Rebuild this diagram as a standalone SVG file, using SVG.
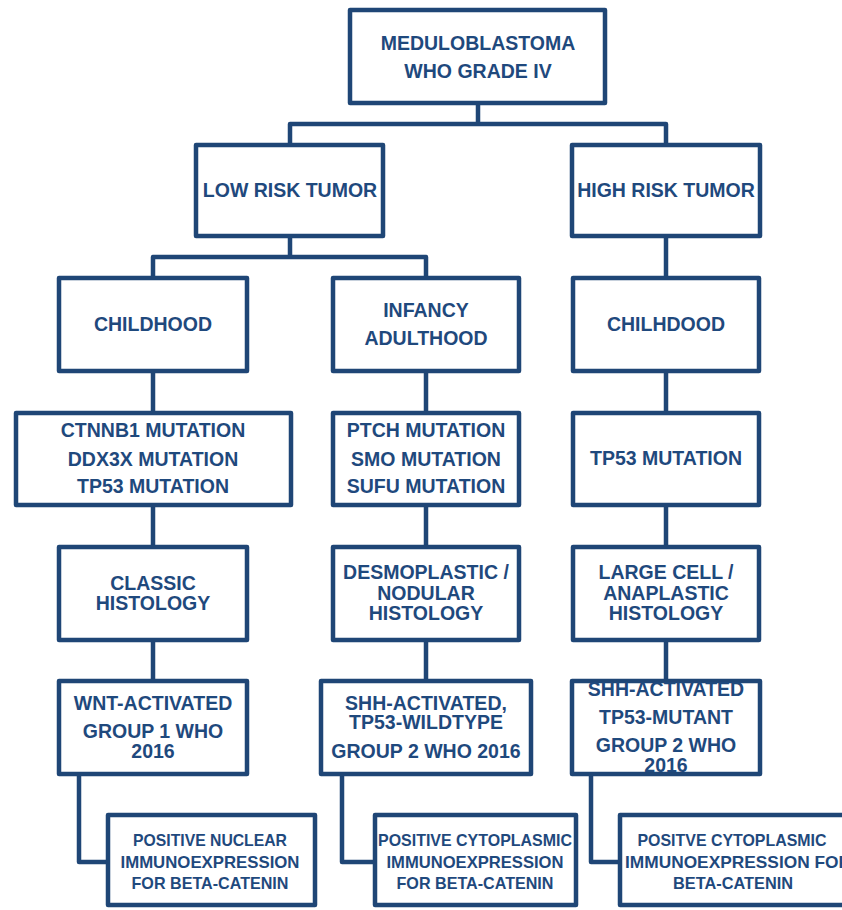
<svg xmlns="http://www.w3.org/2000/svg" width="842" height="910" viewBox="0 0 842 910">
<style>
.box{fill:#fff;stroke:#1F4676;stroke-width:4.5;stroke-linejoin:round}
.con{fill:none;stroke:#1F4676;stroke-width:4.5;stroke-linejoin:round}
.t{font-family:"Liberation Sans",Arial,sans-serif;font-weight:bold;font-size:19.5px;fill:#1F497D;text-anchor:middle}
.s{font-family:"Liberation Sans",Arial,sans-serif;font-weight:bold;font-size:16.5px;fill:#1F497D;text-anchor:middle}
</style>
<rect width="842" height="910" fill="#fff"/>
<g id="connectors" class="con">
<path d="M478 105V124M290 143V124H666V143"/>
<path d="M290 238V257M153 277V257H426V277"/>
<path d="M666 238V277"/>
<path d="M153 373V411M426 373V411M666 373V411"/>
<path d="M153 507V545M426 507V545M666 507V545"/>
<path d="M153 642V679M426 642V679M666 642V679"/>
<path d="M79 776V862H106M342 776V862H373M591 776V862H618"/>
</g>
<g id="root"><rect class="box" x="350" y="10" width="255" height="93"/>
<text class="t" x="478" y="50">MEDULOBLASTOMA</text><text class="t" x="478" y="78">WHO GRADE IV</text></g>
<g id="low-risk"><rect class="box" x="196" y="145" width="187" height="91"/>
<text class="t" x="290" y="197">LOW RISK TUMOR</text></g>
<g id="high-risk"><rect class="box" x="572" y="145" width="188" height="91"/>
<text class="t" x="666" y="197">HIGH RISK TUMOR</text></g>
<g id="childhood"><rect class="box" x="59" y="278" width="188" height="93"/>
<text class="t" x="153" y="331">CHILDHOOD</text></g>
<g id="infancy"><rect class="box" x="333" y="278" width="186" height="93"/>
<text class="t" x="426" y="317">INFANCY</text><text class="t" x="426" y="345">ADULTHOOD</text></g>
<g id="chilhdood"><rect class="box" x="573" y="278" width="186" height="93"/>
<text class="t" x="666" y="331">CHILHDOOD</text></g>
<g id="wnt-mutations"><rect class="box" x="16" y="413" width="275" height="92"/>
<text class="t" x="153" y="437">CTNNB1 MUTATION</text><text class="t" x="153" y="466">DDX3X MUTATION</text><text class="t" x="153" y="493">TP53 MUTATION</text></g>
<g id="shh-mutations"><rect class="box" x="333" y="413" width="186" height="92"/>
<text class="t" x="426" y="437">PTCH MUTATION</text><text class="t" x="426" y="466">SMO MUTATION</text><text class="t" x="426" y="493">SUFU MUTATION</text></g>
<g id="tp53-mutation"><rect class="box" x="573" y="413" width="186" height="92"/>
<text class="t" x="666" y="465">TP53 MUTATION</text></g>
<g id="classic"><rect class="box" x="59" y="547" width="188" height="93"/>
<text class="t" x="153" y="590">CLASSIC</text><text class="t" x="153" y="610">HISTOLOGY</text></g>
<g id="desmoplastic"><rect class="box" x="333" y="547" width="186" height="93"/>
<text class="t" x="426" y="579">DESMOPLASTIC /</text><text class="t" x="426" y="600">NODULAR</text><text class="t" x="426" y="620">HISTOLOGY</text></g>
<g id="large-cell"><rect class="box" x="573" y="547" width="186" height="93"/>
<text class="t" x="666" y="579">LARGE CELL /</text><text class="t" x="666" y="600">ANAPLASTIC</text><text class="t" x="666" y="620">HISTOLOGY</text></g>
<g id="wnt-group"><rect class="box" x="59" y="681" width="188" height="93"/>
<text class="t" x="153" y="710">WNT-ACTIVATED</text><text class="t" x="153" y="738">GROUP 1 WHO</text><text class="t" x="153" y="758">2016</text></g>
<g id="shh-wildtype"><rect class="box" x="321" y="681" width="210" height="93"/>
<text class="t" x="426" y="710">SHH-ACTIVATED,</text><text class="t" x="426" y="729">TP53-WILDTYPE</text><text class="t" x="426" y="758">GROUP 2 WHO 2016</text></g>
<g id="shh-mutant"><rect class="box" x="572" y="681" width="188" height="93"/>
<text class="t" x="666" y="696">SHH-ACTIVATED</text><text class="t" x="666" y="724">TP53-MUTANT</text><text class="t" x="666" y="752">GROUP 2 WHO</text><text class="t" x="666" y="772">2016</text></g>
<g id="nuclear"><rect class="box" x="108" y="815" width="207" height="90"/>
<text class="s" x="210" y="846" textLength="154" lengthAdjust="spacingAndGlyphs">POSITIVE NUCLEAR</text>
<text class="s" x="210" y="868" textLength="179" lengthAdjust="spacingAndGlyphs">IMMUNOEXPRESSION</text>
<text class="s" x="210" y="889" textLength="157" lengthAdjust="spacingAndGlyphs">FOR BETA-CATENIN</text></g>
<g id="cytoplasmic-1"><rect class="box" x="375" y="815" width="201" height="90"/>
<text class="s" x="475" y="846" textLength="194" lengthAdjust="spacingAndGlyphs">POSITIVE CYTOPLASMIC</text>
<text class="s" x="475" y="868" textLength="177" lengthAdjust="spacingAndGlyphs">IMMUNOEXPRESSION</text>
<text class="s" x="475" y="889" textLength="157" lengthAdjust="spacingAndGlyphs">FOR BETA-CATENIN</text></g>
<g id="cytoplasmic-2"><rect class="box" x="620" y="815" width="228" height="90"/>
<text class="s" x="732" y="846" textLength="189" lengthAdjust="spacingAndGlyphs">POSITVE CYTOPLASMIC</text>
<text class="s" x="738" y="868" textLength="226" lengthAdjust="spacingAndGlyphs">IMMUNOEXPRESSION FOR</text>
<text class="s" x="733" y="889" textLength="120" lengthAdjust="spacingAndGlyphs">BETA-CATENIN</text></g>
</svg>
